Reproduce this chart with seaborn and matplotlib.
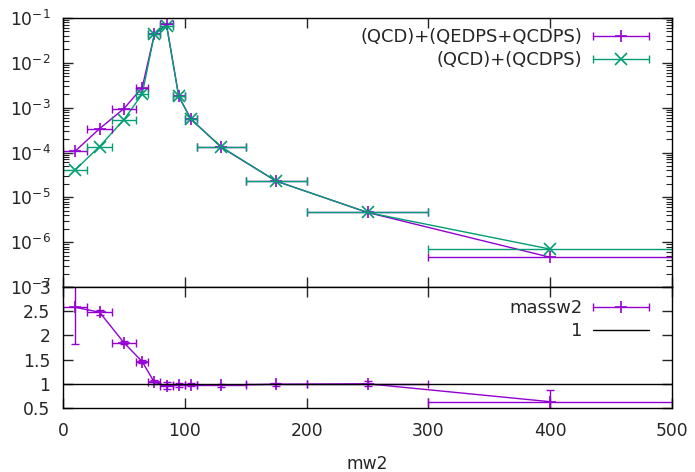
import numpy as np
import pandas as pd
import matplotlib
matplotlib.use("Agg")
import matplotlib.pyplot as plt
import seaborn as sns
from matplotlib.lines import Line2D
from matplotlib.container import ErrorbarContainer
from matplotlib.legend_handler import HandlerTuple, HandlerErrorbar
from matplotlib.ticker import LogLocator, FormatStrFormatter, MultipleLocator, NullFormatter

# Bins in mw2 (centre, lower edge, upper edge)
mw2_center = [10, 30, 50, 65, 75, 85, 95, 105, 130, 175, 250, 400]
mw2_low = [0, 20, 40, 60, 70, 80, 90, 100, 110, 150, 200, 300]
mw2_high = [20, 40, 60, 70, 80, 90, 100, 110, 150, 200, 300, 500]

# Distributions
xsec_qed_qcd = [1.07e-4, 3.4e-4, 9.5e-4, 2.8e-3, 0.043, 0.072, 1.8e-3, 5.6e-4,
                1.3e-4, 2.3e-5, 4.6e-6, 4.6e-7]
xsec_qcd = [4.1e-5, 1.36e-4, 5.4e-4, 2.0e-3, 0.043, 0.068, 1.8e-3, 5.5e-4,
            1.33e-4, 2.3e-5, 4.6e-6, 7.0e-7]

# Ratio panel
ratio = [2.58, 2.48, 1.85, 1.46, 1.03, 0.96, 0.97, 0.98, 0.97, 0.99, 1.0, 0.63]
ratio_err = [0.75, 0.05, 0.03, 0.04, 0.04, 0.07, 0.04, 0.03, 0.03, 0.03, 0.05, 0.25]

label_a = "(QCD)+(QEDPS+QCDPS)"
label_b = "(QCD)+(QCDPS)"
label_r = "massw2"

purple = "#9400D3"
green = "#009E73"
FS_TICK = 12.3
FS_LEG = 12.9

sns.set_style("ticks")
plt.rcParams["font.family"] = ["DejaVu Sans"]
plt.rcParams["font.size"] = FS_TICK
plt.rcParams["mathtext.default"] = "regular"

x = np.array(mw2_center, dtype=float)
xerr = np.array([x - np.array(mw2_low), np.array(mw2_high) - x])

df = pd.DataFrame({
    "mw2": mw2_center * 2,
    "xsec": xsec_qed_qcd + xsec_qcd,
    "sample": [label_a] * len(mw2_center) + [label_b] * len(mw2_center),
})
df_r = pd.DataFrame({"mw2": mw2_center, "ratio": ratio})

fig = plt.figure(figsize=(6.95, 4.72), dpi=100)
ax1 = fig.add_axes([63 / 695, 1 - 287 / 472, 609 / 695, 269 / 472])
ax2 = fig.add_axes([63 / 695, 1 - 408 / 472, 609 / 695, 121 / 472], sharex=ax1)

cap = 2.6
ebkw = dict(fmt="none", capsize=cap, elinewidth=1.0, capthick=1.0)
mk_a = dict(marker="+", markersize=9, markeredgewidth=1.2)
mk_b = dict(marker="x", markersize=8, markeredgewidth=1.2)

# Upper panel: the two distributions
sns.lineplot(data=df[df["sample"] == label_a], x="mw2", y="xsec", ax=ax1, color=purple,
             markeredgecolor=purple, lw=1.0, legend=False, sort=False,
             errorbar=None, **mk_a)
sns.lineplot(data=df[df["sample"] == label_b], x="mw2", y="xsec", ax=ax1, color=green,
             markeredgecolor=green, lw=1.0, legend=False, sort=False,
             errorbar=None, **mk_b)
eb_a = ax1.errorbar(x, xsec_qed_qcd, xerr=xerr, color=purple, **ebkw)
eb_b = ax1.errorbar(x, xsec_qcd, xerr=xerr, color=green, **ebkw)

ax1.set_yscale("log")
ax1.set_ylim(1e-7, 1e-1)
ax1.set_xlim(0, 500)
ax1.yaxis.set_major_locator(LogLocator(base=10, numticks=10))
ax1.yaxis.set_minor_locator(LogLocator(base=10, subs=np.arange(2, 10), numticks=20))
ax1.yaxis.set_minor_formatter(NullFormatter())
ax1.tick_params(axis="x", labelbottom=False)
ax1.set_xlabel("")
ax1.set_ylabel("")

HL = 3.1
leg_kw = dict(handler_map={tuple: HandlerTuple(ndivide=1, pad=0),
                           ErrorbarContainer: HandlerErrorbar(xerr_size=HL / 2)},
              loc="upper right", frameon=False, markerfirst=False,
              handlelength=HL, borderpad=0, borderaxespad=0, handletextpad=0.6,
              labelspacing=0.3, fontsize=FS_LEG)

m_a = Line2D([], [], color=purple, ls="none", **mk_a)
m_b = Line2D([], [], color=green, ls="none", **mk_b)
ax1.legend([(eb_a, m_a), (eb_b, m_b)], [label_a, label_b],
           bbox_to_anchor=(0.962, 0.963), **leg_kw)

# Lower panel: ratio
sns.lineplot(data=df_r, x="mw2", y="ratio", ax=ax2, color=purple,
             markeredgecolor=purple, lw=1.0, legend=False, sort=False,
             errorbar=None, **mk_a)
ax2.errorbar(x, ratio, xerr=xerr, yerr=ratio_err, color=purple, **ebkw)
one = ax2.axhline(1, color="black", lw=1.0)
ax2.set_ylim(0.5, 3)
ax2.yaxis.set_major_locator(MultipleLocator(0.5))
ax2.yaxis.set_major_formatter(FormatStrFormatter("%g"))
ax2.xaxis.set_major_locator(MultipleLocator(100))
ax2.set_xlabel("mw2", labelpad=11, fontsize=FS_TICK)
ax2.set_ylabel("")
m_r = Line2D([], [], color=purple, ls="none", **mk_a)
ax2.legend([(eb_a, m_r), one], [label_r, "1"],
           bbox_to_anchor=(0.962, 0.90), **leg_kw)

for ax in (ax1, ax2):
    for s in ax.spines.values():
        s.set_visible(True)
        s.set_linewidth(1.0)
        s.set_color("black")
    ax.tick_params(which="major", direction="in", length=7, width=1.0,
                   top=True, right=True, labelsize=FS_TICK)
    ax.tick_params(which="minor", direction="in", length=4, width=0.8,
                   top=True, right=True)
    ax.tick_params(axis="x", pad=10)
    ax.tick_params(axis="y", pad=9)

fig.savefig("out.png", dpi=100)
